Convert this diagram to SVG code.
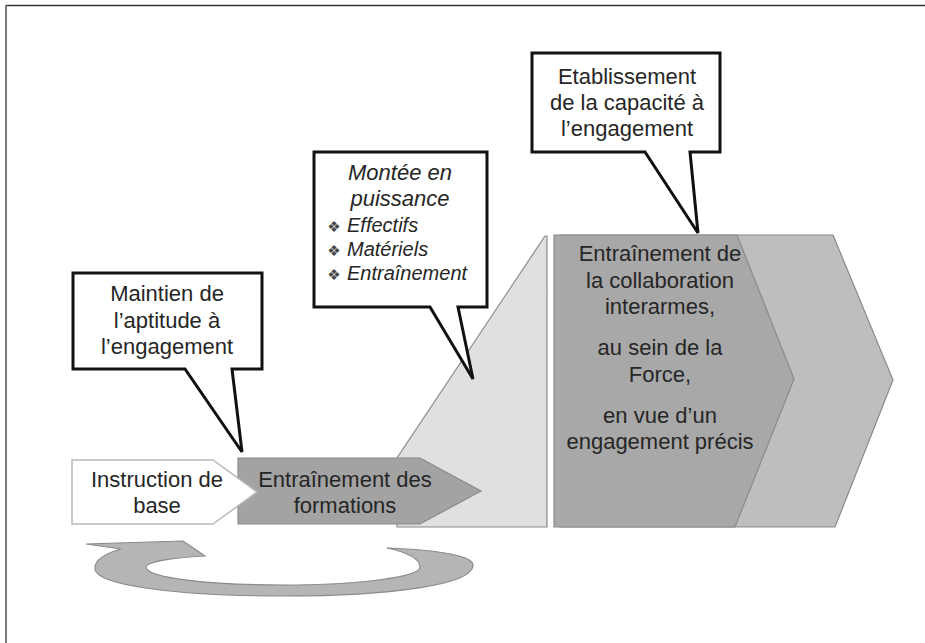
<svg xmlns="http://www.w3.org/2000/svg" width="925" height="643" viewBox="0 0 925 643">
<style>
text{font-family:"Liberation Sans",Arial,sans-serif;font-size:22px;fill:#262626;text-anchor:middle}
.it{font-style:italic}
.bl{font-size:20px;text-anchor:start}
.bu{font-family:"DejaVu Sans",sans-serif;font-size:15px;text-anchor:middle;fill:#444}
.call{fill:#ffffff;stroke:#111;stroke-width:3;stroke-linejoin:miter}
.shape{stroke:#8a8a8a;stroke-width:1.2}
</style>
<rect width="925" height="643" fill="#ffffff"/>
<line x1="6" y1="5.5" x2="925" y2="5.5" stroke="#333" stroke-width="1.6"/>
<line x1="6" y1="5" x2="6" y2="643" stroke="#7a7a7a" stroke-width="2"/>

<g id="montee-triangle">
<polygon class="shape" points="545,236 397,458 397,527 547,527 547,236" fill="#e0e0e0"/>
</g>
<g id="collab-back">
<polygon class="shape" points="560,235 833,235 893,380 835,527 560,527" fill="#bebebe"/>
</g>
<g id="collab-front">
<polygon class="shape" points="554,235 737,235 794,379 735,527 554,527" fill="#a8a8a8"/>
<text x="660" y="261">Entraînement de</text>
<text x="660" y="288">la collaboration</text>
<text x="660" y="314">interarmes,</text>
<text x="660" y="355">au sein de la</text>
<text x="660" y="382">Force,</text>
<text x="660" y="423">en vue d’un</text>
<text x="660" y="449">engagement précis</text>
</g>
<g id="formations">
<polygon class="shape" points="238,458 420,458 481,491 420,524 238,524" fill="#a3a3a3"/>
<text x="345" y="487">Entraînement des</text>
<text x="345" y="513">formations</text>
</g>
<g id="instruction">
<polygon points="72,460 213,460 257,492 213,524 72,524" fill="#ffffff" stroke="#b8b8b8" stroke-width="1.5"/>
<text x="157" y="487">Instruction de</text>
<text x="157" y="513">base</text>
</g>
<g id="cycle-arrow">
<path d="M387 548 C440 550 475 556 473 566 C471 585 390 596 284 596 C175 596 96 585 95 569 C94 561 104 554 121 549 L86 544 L183 541 L205 556 C170 558 146 562 146 567 C146 578 210 585 283 585 C360 585 420 577 420 567 C420 558 405 552 387 548 Z" fill="#b5b5b5" stroke="#8a8a8a" stroke-width="1.2"/>
</g>
<g id="callout-maintien">
<path class="call" d="M73 273 H262 V369 H232 L242 452 L185 369 H73 Z"/>
<text x="167" y="301">Maintien de</text>
<text x="167" y="328">l’aptitude à</text>
<text x="167" y="354">l’engagement</text>
</g>
<g id="callout-montee">
<path class="call" d="M314 152 H487 V307 H458 L473 379 L430 307 H314 Z"/>
<text class="it" x="400" y="180">Montée en</text>
<text class="it" x="400" y="206">puissance</text>
<text class="bu" x="334" y="232">❖</text>
<text class="bl it" x="347" y="232">Effectifs</text>
<text class="bu" x="334" y="256">❖</text>
<text class="bl it" x="347" y="256">Matériels</text>
<text class="bu" x="334" y="280">❖</text>
<text class="bl it" x="347" y="280">Entraînement</text>
</g>
<g id="callout-etablissement">
<path class="call" d="M532 53 H720 V152 H690 L698 233 L645 152 H532 Z"/>
<text x="627" y="84">Etablissement</text>
<text x="627" y="110">de la capacité à</text>
<text x="627" y="136">l’engagement</text>
</g>
</svg>
